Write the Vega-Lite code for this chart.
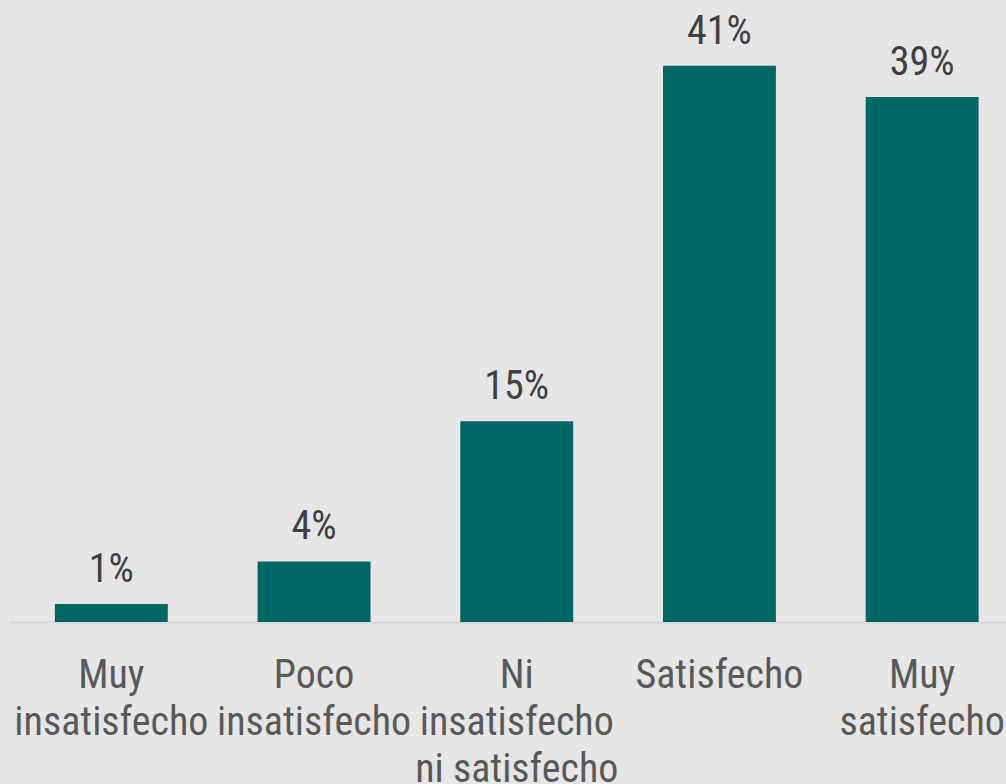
{
  "$schema": "https://vega.github.io/schema/vega-lite/v6.json",
  "width": 996,
  "height": 622,
  "autosize": {"type": "none"},
  "padding": {"left": 10, "top": 0, "right": 0, "bottom": 162},
  "background": "#e6e6e6",
  "config": {
    "view": {"stroke": null},
    "font": "Liberation Sans Narrow, Roboto Condensed, DejaVu Sans Condensed, sans-serif"
  },
  "data": {
    "values": [
      {"categoria": "Muy insatisfecho", "porcentaje": 1.33, "etiqueta": "1%"},
      {"categoria": "Poco insatisfecho", "porcentaje": 4.46, "etiqueta": "4%"},
      {"categoria": "Ni insatisfecho ni satisfecho", "porcentaje": 14.8, "etiqueta": "15%"},
      {"categoria": "Satisfecho", "porcentaje": 41.0, "etiqueta": "41%"},
      {"categoria": "Muy satisfecho", "porcentaje": 38.7, "etiqueta": "39%"}
    ]
  },
  "encoding": {
    "x": {
      "field": "categoria",
      "type": "nominal",
      "sort": null,
      "scale": {"range": [0, 1013.5], "paddingInner": 0.443, "paddingOuter": 0.2215},
      "axis": {
        "title": null,
        "labelAngle": 0,
        "ticks": false,
        "tickSize": 0,
        "domain": true,
        "domainColor": "#d6d6d6",
        "domainWidth": 2,
        "labelFont": "Liberation Sans Narrow, Roboto Condensed, DejaVu Sans Condensed, sans-serif",
        "labelFontSize": 40,
        "labelColor": "#595959",
        "labelBaseline": "alphabetic",
        "labelPadding": 65,
        "labelLineHeight": 47,
        "labelLimit": 0,
        "labelOverlap": false,
        "labelExpr": "datum.value == 'Ni insatisfecho ni satisfecho' ? ['Ni', 'insatisfecho', 'ni satisfecho'] : split(datum.value, ' ')"
      }
    },
    "y": {
      "field": "porcentaje",
      "type": "quantitative",
      "scale": {"domain": [0, 45.84], "nice": false},
      "axis": null
    }
  },
  "layer": [
    {"mark": {"type": "bar", "color": "#006764"}},
    {
      "mark": {
        "type": "text",
        "baseline": "alphabetic",
        "dy": -22,
        "fontSize": 40,
        "color": "#404040"
      },
      "encoding": {"text": {"field": "etiqueta"}}
    }
  ]
}
